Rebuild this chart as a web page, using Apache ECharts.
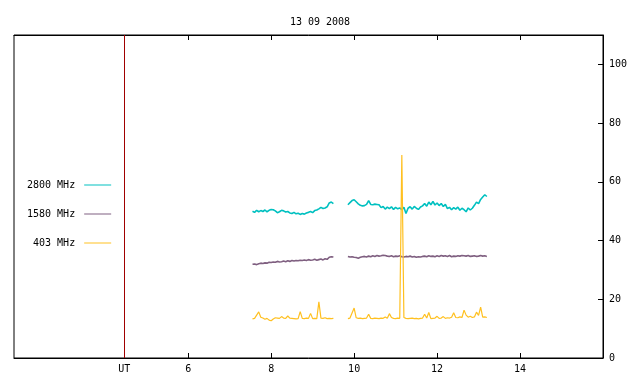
<!DOCTYPE html>
<html>
<head>
<meta charset="utf-8">
<title>13 09 2008</title>
<script src="https://cdn.jsdelivr.net/npm/echarts@6/dist/echarts.min.js"></script>
<style>
    html, body { margin: 0; background: #fff; }
    #main { width: 640px; height: 384px; }
</style>
</head>
<body>
<div id="main"></div>
<script>
    // sampling grid: hours UT, one value every 0.05 h starting 7.55
    var t0 = 7.55, step = 0.05;

    var f2800 = [
        50.0, 49.6, 50.3, 49.8, 50.2, 49.9, 50.4, 49.8, 50.3, 50.6,
        50.5, 50.1, 49.5, 49.8, 50.3, 50.1, 49.7, 49.9, 49.4, 49.2,
        49.6, 49.1, 49.3, 48.9, 49.2, 49.0, 49.4, 49.6, 49.9, 49.5,
        50.2, 50.4, 50.8, 51.3, 50.9, 51.1, 51.5, 52.8, 53.1, 52.6,
        null, null, null, null, null, null,
        52.2, 52.9, 53.6, 53.9, 53.2, 52.5, 52.0, 51.8, 51.9, 52.3,
        53.6, 52.3, 52.2, 52.4, 52.3, 52.2, 51.2, 51.6, 50.7, 51.4,
        50.9, 51.5, 50.6, 51.3, 50.8, 51.1, 50.5, 51.3, 49.2, 51.0,
        51.5, 50.7, 51.6, 51.0, 50.6, 51.4, 51.8, 52.6, 51.7, 53.1,
        52.2, 53.3, 52.1, 52.8, 51.9, 52.6, 51.6, 52.3, 50.9, 51.3,
        50.5, 51.2, 50.7, 51.4, 50.3, 51.0, 50.5, 49.8, 51.1, 50.4,
        51.0, 52.0, 53.1, 52.6, 54.0, 54.8, 55.6, 55.0
    ];
    var f1580 = [
        31.9, 32.0, 31.8, 32.1, 32.3, 32.2, 32.4, 32.3, 32.6, 32.5,
        32.7, 32.6, 32.9, 32.7, 32.8, 33.0, 32.8, 33.1, 32.9, 33.2,
        33.0, 33.2, 33.1, 33.3, 33.2, 33.4, 33.2, 33.5, 33.3, 33.4,
        33.6, 33.3, 33.5, 33.7, 33.4, 33.8, 33.6, 34.3, 34.5, 34.4,
        null, null, null, null, null, null,
        34.6, 34.4, 34.5, 34.3, 34.2, 34.0, 34.3, 34.5, 34.6, 34.4,
        34.7, 34.5, 34.8, 34.6, 34.9, 34.7, 34.8, 35.0, 34.9, 34.7,
        34.6, 34.8, 34.5, 34.7, 34.6, 34.8, 34.5, 34.4, 34.6, 34.5,
        34.7, 34.4, 34.6, 34.3, 34.5, 34.4, 34.6, 34.7, 34.5, 34.8,
        34.6, 34.7, 34.5, 34.8, 34.6, 34.9, 34.7, 34.8, 34.6, 34.9,
        34.5, 34.7, 34.6, 34.8, 34.7, 34.9, 34.8, 34.7, 34.9, 34.6,
        34.7, 34.8, 34.6, 34.7, 34.9, 34.7, 34.8, 34.6
    ];
    var f403 = [
        13.3, 13.5, 14.6, 15.7, 13.9, 13.6, 13.2, 13.5, 12.9, 12.7,
        13.3, 13.7, 13.6, 13.5, 14.1, 13.6, 13.5, 14.3, 13.6, 13.5,
        13.4, 13.3, 13.4, 15.8, 13.5, 13.4, 13.6, 13.5, 15.2, 13.4,
        13.5, 13.4, 19.1, 13.6, 13.5, 13.7, 13.4, 13.5, 13.4, 13.5,
        null, null, null, null, null, null,
        13.4, 13.6, 15.3, 17.0, 13.7, 13.5, 13.6, 13.4, 13.5, 13.6,
        14.9, 13.5, 13.4, 13.6, 13.5, 13.4, 13.6, 13.5, 14.0, 13.5,
        15.1, 13.8, 13.5, 13.4, 13.6, 13.5, 69.1, 13.8, 13.5, 13.4,
        13.5, 13.6, 13.4, 13.5, 13.3, 13.5, 13.6, 14.9, 13.6, 15.5,
        13.4, 13.5, 13.6, 14.2, 13.5, 13.6, 14.1, 13.5, 13.7, 13.6,
        13.9, 15.4, 13.8, 13.7, 14.0, 13.8, 16.3, 14.6, 13.9, 14.2,
        13.8, 14.0, 15.6, 14.5, 17.3, 13.9, 14.0, 13.8
    ];

    var xTicks = [6, 8, 10, 12, 14];
    var yTicks = [0, 20, 40, 60, 80, 100];
    var utHour = 4.46;   // red UT marker

    var hours = f2800.map(function (v, i) { return +(t0 + i * step).toFixed(2); });
    function pairs(arr) {
        return arr.map(function (v, i) { return [hours[i], v]; });
    }

    var font = 'DejaVu Sans Mono';
    var chart = echarts.init(document.getElementById('main'));
    var option = {
        animation: false,
        title: {
            text: '13 09 2008',
            left: 'center',
            top: 12,
            textStyle: { fontFamily: font, fontSize: 10, fontWeight: 'normal', color: '#000' }
        },
        legend: {
            orient: 'vertical',
            left: 22,
            top: 175,
            align: 'right',
            itemGap: 19,
            itemWidth: 27,
            itemHeight: 1,
            icon: 'rect',
            textStyle: { fontFamily: font, fontSize: 10, color: '#000', width: 48, align: 'right', padding: [0, 4, 0, 0] },
            data: ['2800 MHz', '1580 MHz', '403 MHz']
        },
        grid: {
            left: 14, right: 37, top: 35, bottom: 26,
            show: true, borderColor: '#000', borderWidth: 1
        },
        xAxis: [{
            type: 'value',
            min: 1.8, max: 16,
            axisLine: { lineStyle: { color: '#000', width: 1 } },
            splitLine: { show: false },
            axisTick: { inside: true, length: 5, customValues: xTicks, lineStyle: { color: '#000' } },
            axisLabel: {
                customValues: [utHour].concat(xTicks),
                margin: 6,
                fontFamily: font, fontSize: 10, color: '#000',
                formatter: function (v) { return v < 5 ? 'UT' : String(v); }
            }
        }, {
            type: 'value',
            position: 'top',
            min: 1.8, max: 16,
            axisLine: { lineStyle: { color: '#000', width: 1 } },
            splitLine: { show: false },
            axisTick: { inside: true, length: 5, customValues: xTicks, lineStyle: { color: '#000' } },
            axisLabel: { show: false }
        }],
        yAxis: {
            type: 'value',
            position: 'right',
            min: 0, max: 110,
            axisLine: { show: true, lineStyle: { color: '#000', width: 1 } },
            splitLine: { show: false },
            axisTick: { show: true, inside: true, length: 5, customValues: yTicks, lineStyle: { color: '#000' } },
            axisLabel: { customValues: yTicks, margin: 6, fontFamily: font, fontSize: 10, color: '#000' }
        },
        series: [{
            name: '2800 MHz',
            type: 'line',
            data: pairs(f2800),
            showSymbol: false,
            connectNulls: false,
            color: '#00c0c0',
            lineStyle: { width: 1.6 },
            markLine: {
                silent: true,
                symbol: 'none',
                label: { show: false },
                lineStyle: { color: '#a00000', width: 1, type: 'solid' },
                data: [{ xAxis: utHour }]
            }
        }, {
            name: '1580 MHz',
            type: 'line',
            data: pairs(f1580),
            showSymbol: false,
            connectNulls: false,
            color: '#7f5f80',
            lineStyle: { width: 1.6 }
        }, {
            name: '403 MHz',
            type: 'line',
            data: pairs(f403),
            showSymbol: false,
            connectNulls: false,
            color: '#ffc020',
            lineStyle: { width: 1.2 }
        }]
    };
    chart.setOption(option);
</script>
</body>
</html>
